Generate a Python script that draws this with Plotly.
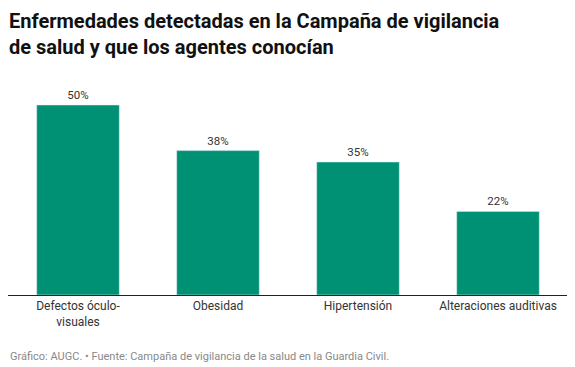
import plotly.graph_objects as go

categories = ["Defectos óculo-<br>visuales", "Obesidad", "Hipertensión", "Alteraciones auditivas"]
values = [50, 38, 35, 22]
labels = ["50%", "38%", "35%", "22%"]

PLOT_H = 209  # plot-area height in px (t=78, b=72, height=359)

fig = go.Figure(go.Bar(
    x=categories, y=values, text=labels, textposition="outside",
    marker_color="#009175", cliponaxis=False,
    textfont=dict(family="Roboto", size=11.5, color="#333333"),
    hoverinfo="skip",
))

fig.update_layout(
    width=567, height=359,
    margin=dict(l=0, r=7, t=78, b=72),
    paper_bgcolor="white", plot_bgcolor="white",
    bargap=0.41, showlegend=False,
    font=dict(family="Roboto", color="#333333"),
    xaxis=dict(showline=True, linecolor="#222222", linewidth=1, ticks="",
               tickfont=dict(family="Roboto", size=12, color="#333333"), fixedrange=True),
    yaxis=dict(range=[0, 55], visible=False, fixedrange=True),
    annotations=[
        dict(text="<b>Enfermedades detectadas en la Campaña de vigilancia<br>de salud y que los agentes conocían</b>",
             x=0, y=1 + 78 / PLOT_H, xref="paper", yref="paper", xanchor="left", yanchor="top",
             showarrow=False, align="left", borderpad=0,
             font=dict(family="Roboto", size=20, color="#111111")),
        dict(text="Gráfico: AUGC. • Fuente: Campaña de vigilancia de la salud en la Guardia Civil.",
             x=0, y=-61 / PLOT_H, xref="paper", yref="paper", xanchor="left", yanchor="middle",
             showarrow=False, align="left",
             font=dict(family="Roboto", size=11, color="#888888")),
    ],
)

fig.write_html("out.html")
